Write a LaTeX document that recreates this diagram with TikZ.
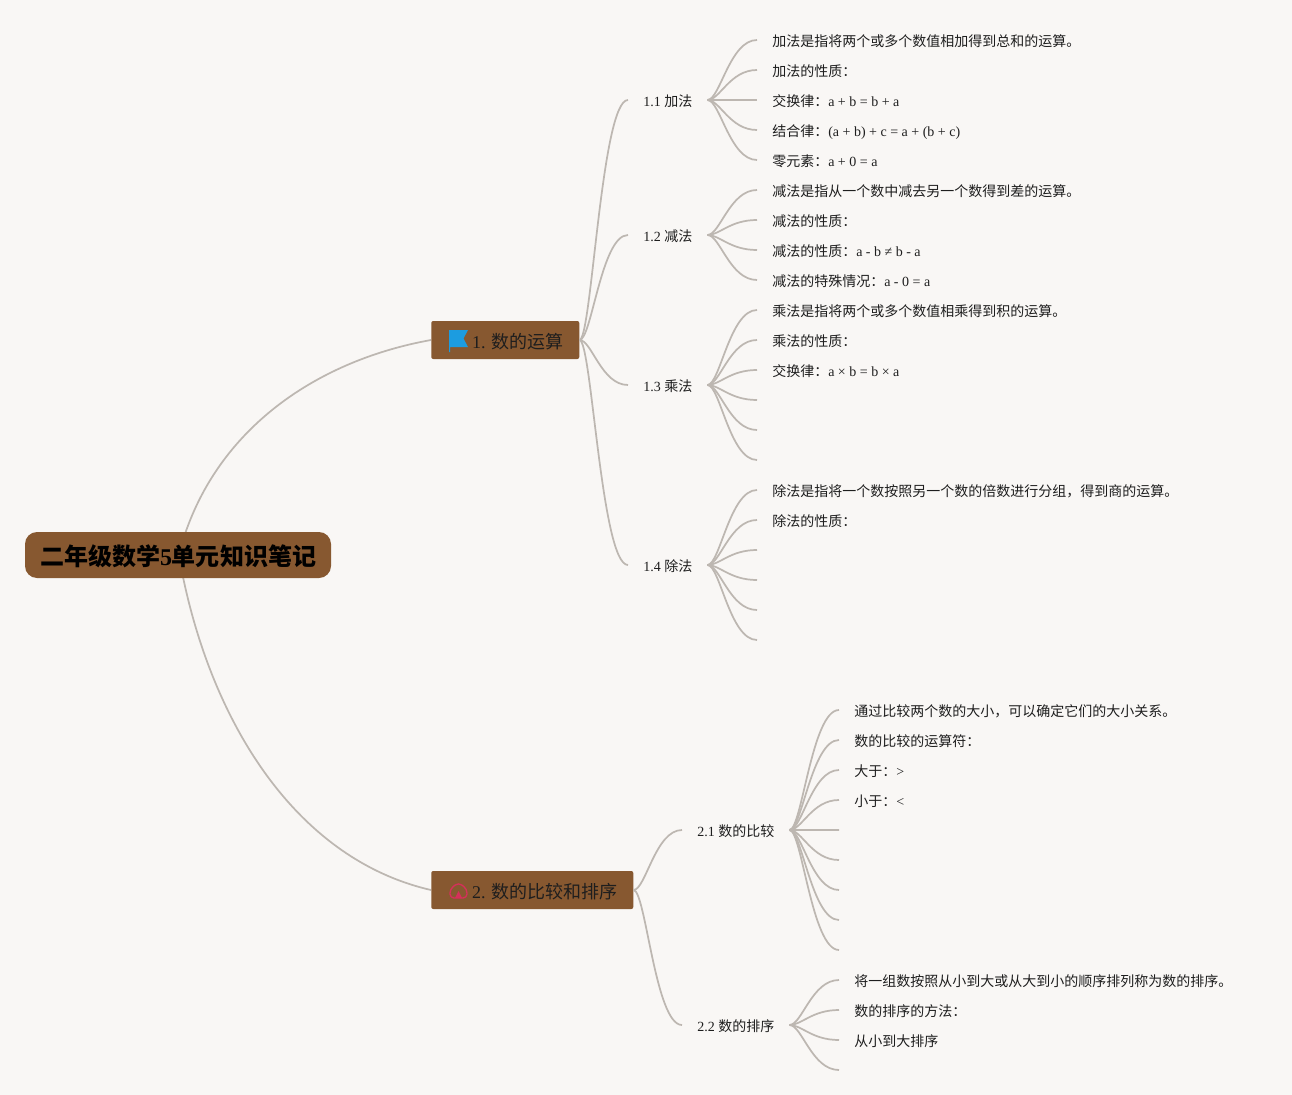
\documentclass[tikz,border=0pt]{standalone}
\usepackage{fontspec}
\setmainfont{Liberation Serif}
\newfontfamily\cjk{Noto Sans CJK SC}
\newcommand{\zh}[1]{{\cjk #1}}
\usetikzlibrary{calc}
\definecolor{paper}{HTML}{F9F7F5}
\definecolor{bark}{HTML}{875830}
\definecolor{twig}{HTML}{BDB7B1}
\definecolor{ink}{HTML}{1E1E1E}
\definecolor{flagblue}{HTML}{1C9CE0}
\definecolor{markred}{HTML}{D5305A}
\tikzset{% styles of the map
    root/.style={fill=bark, rounded corners=9pt, minimum width=229.5pt, minimum height=34.5pt, inner sep=0pt, text=black, text height=16.6pt, text depth=0.4pt, font=\fontsize{18pt}{18pt}\selectfont\bfseries},
    branch/.style={fill=bark, rounded corners=1.5pt, anchor=west, minimum height=28.5pt, inner sep=0pt, text=ink, text height=13pt, text depth=0.4pt, font=\fontsize{13.5pt}{13.5pt}\selectfont},
    sub/.style={anchor=west, inner ysep=0pt, inner xsep=11.25pt, text=ink, text height=10pt, text depth=0.5pt, font=\fontsize{10.5pt}{10.5pt}\selectfont},
    leaf/.style={anchor=west, inner ysep=0pt, inner xsep=11.25pt, text=ink, text height=10pt, text depth=0.5pt, font=\fontsize{10.5pt}{10.5pt}\selectfont},
    link/.style={draw=twig, line width=1.3pt, to path={.. controls ($(\tikztostart)!.25!(\tikztotarget|-\tikztostart)$) and ($(\tikztotarget)!.55!(\tikztostart|-\tikztotarget)$) .. (\tikztotarget)}}}

\begin{document}
\begin{tikzpicture}[x=0.75pt,y=-0.75pt]
  \useasboundingbox[fill=paper] (0,0) rectangle (1292,1095);

  \coordinate (roottop) at (185,534);
  \coordinate (rootbot) at (183,577);
  \draw[draw=twig, line width=1.3pt] (roottop) .. controls (222,425) and (320,360) .. (431,340);
  \draw[draw=twig, line width=1.3pt] (rootbot) .. controls (215,730) and (300,860) .. (431,890);

  \node[root] (map) at (178,555) {\zh{二年级数学}5\zh{单元知识笔记}};
  \node[branch, minimum width=111pt] (b1) at (431,340) {\hspace{18.75pt}1. \zh{数的运算}};
  \node[branch, minimum width=151.5pt] (b2) at (431,890) {\hspace{18.75pt}2. \zh{数的比较和排序}};

  % flag
  \fill[flagblue] (449,330) -- (468,330) -- (463.5,338.5) -- (468,347) -- (450,347) -- (450,352) -- (449,352) -- cycle;
  % house mark
  \draw[markred, line width=1pt, rounded corners=3pt] (450,898) -- (450,889) -- (458.5,882.5) -- (467,889) -- (467,898) -- cycle;
  \fill[markred] (455,898) -- (458.5,891) -- (462,898) -- cycle;

  \node[sub] (s1) at (628,100) {1.1 \zh{加法}};
  \node[sub] (s2) at (628,235) {1.2 \zh{减法}};
  \node[sub] (s3) at (628,385) {1.3 \zh{乘法}};
  \node[sub] (s4) at (628,565) {1.4 \zh{除法}};
  \node[sub] (s5) at (682,830) {2.1 \zh{数的比较}};
  \node[sub] (s6) at (682,1025) {2.2 \zh{数的排序}};

  \node[leaf] (a1) at (757,40) {\zh{加法是指将两个或多个数值相加得到总和的运算。}};
  \node[leaf] (a2) at (757,70) {\zh{加法的性质：}};
  \node[leaf] (a3) at (757,100) {\zh{交换律：}a + b = b + a};
  \node[leaf] (a4) at (757,130) {\zh{结合律：}(a + b) + c = a + (b + c)};
  \node[leaf] (a5) at (757,160) {\zh{零元素：}a + 0 = a};

  \node[leaf] (c1) at (757,190) {\zh{减法是指从一个数中减去另一个数得到差的运算。}};
  \node[leaf] (c2) at (757,220) {\zh{减法的性质：}};
  \node[leaf] (c3) at (757,250) {\zh{减法的性质：}a - b ≠ b - a};
  \node[leaf] (c4) at (757,280) {\zh{减法的特殊情况：}a - 0 = a};

  \node[leaf] (d1) at (757,310) {\zh{乘法是指将两个或多个数值相乘得到积的运算。}};
  \node[leaf] (d2) at (757,340) {\zh{乘法的性质：}};
  \node[leaf] (d3) at (757,370) {\zh{交换律：}a × b = b × a};
  \coordinate (d4) at (757,400);
  \coordinate (d5) at (757,430);
  \coordinate (d6) at (757,460);

  \node[leaf] (f1) at (757,490) {\zh{除法是指将一个数按照另一个数的倍数进行分组，得到商的运算。}};
  \node[leaf] (f2) at (757,520) {\zh{除法的性质：}};
  \coordinate (f3) at (757,550);
  \coordinate (f4) at (757,580);
  \coordinate (f5) at (757,610);
  \coordinate (f6) at (757,640);

  \node[leaf] (g1) at (839,710) {\zh{通过比较两个数的大小，可以确定它们的大小关系。}};
  \node[leaf] (g2) at (839,740) {\zh{数的比较的运算符：}};
  \node[leaf] (g3) at (839,770) {\zh{大于：}>};
  \node[leaf] (g4) at (839,800) {\zh{小于：}<};
  \coordinate (g5) at (839,830);
  \coordinate (g6) at (839,860);
  \coordinate (g7) at (839,890);
  \coordinate (g8) at (839,920);
  \coordinate (g9) at (839,950);

  \node[leaf] (h1) at (839,980) {\zh{将一组数按照从小到大或从大到小的顺序排列称为数的排序。}};
  \node[leaf] (h2) at (839,1010) {\zh{数的排序的方法：}};
  \node[leaf] (h3) at (839,1040) {\zh{从小到大排序}};
  \coordinate (h4) at (839,1070);

  \foreach \s in {s1,s2,s3,s4}
    \draw[link] (b1.east) to (\s.west);
  \foreach \s in {s5,s6}
    \draw[link] (b2.east) to (\s.west);

  \foreach \t in {a1.west,a2.west,a3.west,a4.west,a5.west}
    \draw[link] (s1.east) to (\t);
  \foreach \t in {c1.west,c2.west,c3.west,c4.west}
    \draw[link] (s2.east) to (\t);
  \foreach \t in {d1.west,d2.west,d3.west,d4,d5,d6}
    \draw[link] (s3.east) to (\t);
  \foreach \t in {f1.west,f2.west,f3,f4,f5,f6}
    \draw[link] (s4.east) to (\t);
  \foreach \t in {g1.west,g2.west,g3.west,g4.west,g5,g6,g7,g8,g9}
    \draw[link] (s5.east) to (\t);
  \foreach \t in {h1.west,h2.west,h3.west,h4}
    \draw[link] (s6.east) to (\t);
\end{tikzpicture}
\end{document}
